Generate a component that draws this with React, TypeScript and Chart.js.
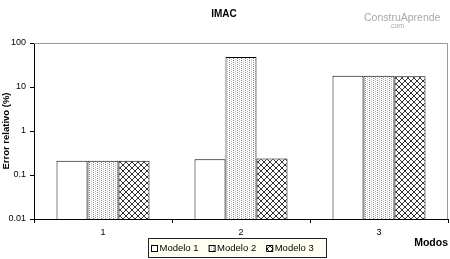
import React, { useEffect, useRef } from "react";
import { Chart, registerables } from "chart.js";

Chart.register(...registerables);

const categories = ["1", "2", "3"];
const seriesNames = ["Modelo 1", "Modelo 2", "Modelo 3"];
const modelo1 = [0.21, 0.228, 18];
const modelo2 = [0.21, 48, 18];
const modelo3 = [0.21, 0.238, 17.5];
const yTickValues = [0.01, 0.1, 1, 10, 100];
const chartTitle = "IMAC";
const yTitle = "Error relativo (%)";
const xTitle = "Modos";

const FONT = "'Liberation Sans', Arial, sans-serif";

function makeDotPattern(): CanvasPattern | string {
  const c = document.createElement("canvas");
  c.width = 4;
  c.height = 4;
  const g = c.getContext("2d");
  if (!g) return "#fff";
  g.fillStyle = "#ffffff";
  g.fillRect(0, 0, 4, 4);
  g.fillStyle = "#8a8a8a";
  g.fillRect(1, 0, 1, 1);
  g.fillRect(1, 2, 1, 1);
  g.fillStyle = "#b5b5b5";
  g.fillRect(3, 1, 1, 1);
  g.fillRect(3, 3, 1, 1);
  const p = g.createPattern(c, "repeat");
  return p || "#fff";
}

function makeCrossPattern(): CanvasPattern | string {
  const s = 6;
  const c = document.createElement("canvas");
  c.width = s;
  c.height = s;
  const g = c.getContext("2d");
  if (!g) return "#fff";
  g.fillStyle = "#ffffff";
  g.fillRect(0, 0, s, s);
  g.fillStyle = "#333333";
  for (let i = 0; i < s; i++) {
    g.fillRect(i, i, 1, 1);
    g.fillRect(s - 1 - i, i, 1, 1);
  }
  const p = g.createPattern(c, "repeat");
  return p || "#fff";
}

const extrasPlugin = {
  id: "extras",
  afterDraw(chart: any) {
    const ctx = chart.ctx as CanvasRenderingContext2D;
    const a = chart.chartArea;
    ctx.save();
    // plot frame (top + right)
    ctx.strokeStyle = "#9a9a9a";
    ctx.lineWidth = 1;
    ctx.beginPath();
    ctx.moveTo(a.left, a.top + 0.5);
    ctx.lineTo(a.right - 0.5, a.top + 0.5);
    ctx.lineTo(a.right - 0.5, a.bottom);
    ctx.stroke();

    // watermark
    ctx.fillStyle = "#a8a8a8";
    ctx.font = `10.5px ${FONT}`;
    ctx.textBaseline = "middle";
    ctx.textAlign = "left";
    ctx.fillText("ConstruAprende", 364, 18);
    ctx.font = `7px ${FONT}`;
    ctx.fillText(".com", 389, 26);

    // legend
    const bx = 148.5, by = 238.5, bw = 178, bh = 19;
    ctx.fillStyle = "#fffff2";
    ctx.fillRect(bx, by, bw, bh);
    ctx.strokeStyle = "#222";
    ctx.strokeRect(bx, by, bw, bh);
    ctx.font = `9.5px ${FONT}`;
    ctx.textBaseline = "middle";
    const cy = by + bh / 2;
    chart.data.datasets.forEach((ds: any, i: number) => {
      const x = 151 + i * 57.6;
      ctx.fillStyle = ds.backgroundColor;
      ctx.fillRect(x, cy - 3, 7, 7);
      ctx.strokeStyle = "#000";
      ctx.strokeRect(x + 0.5, cy - 3 + 0.5, 6, 6);
      ctx.fillStyle = "#000";
      ctx.fillText(ds.label, x + 8.5, cy + 0.5);
    });
    ctx.restore();
  },
};

export default function App() {
  const ref = useRef<HTMLCanvasElement | null>(null);
  useEffect(() => {
    document.body.style.margin = "0";
    const canvas = ref.current;
    if (!canvas) return;
    const fills = ["#ffffff", makeDotPattern(), makeCrossPattern()];
    const series = [modelo1, modelo2, modelo3];
    const chart = new Chart(canvas, {
      type: "bar",
      data: {
        labels: categories,
        datasets: series.map((d, i) => ({
          label: seriesNames[i],
          data: d,
          backgroundColor: fills[i] as any,
          borderColor: "#000",
          borderWidth: 1,
          categoryPercentage: 0.674,
          barPercentage: 1,
        })),
      },
      options: {
        animation: false,
        responsive: false,
        devicePixelRatio: 1,
        layout: { padding: { left: 0, right: 2, top: 0, bottom: 0 } },
        plugins: {
          legend: { display: false },
          tooltip: { enabled: false },
          title: {
            display: true,
            text: chartTitle,
            color: "#000",
            font: { family: FONT, size: 10, weight: "bold" },
            padding: { top: 8, bottom: 23 },
          },
        },
        scales: {
          x: {
            type: "category",
            grid: {
              display: true,
              offset: true,
              drawOnChartArea: false,
              drawTicks: true,
              tickLength: 4,
              color: "#000",
            },
            border: { display: true, color: "#000" },
            ticks: {
              color: "#000",
              padding: 4,
              font: { family: FONT, size: 9 },
            },
            title: {
              display: true,
              text: xTitle,
              align: "end",
              color: "#000",
              font: { family: FONT, size: 10.5, weight: "bold" },
              padding: { top: 0, bottom: 10 },
            },
            afterFit: (scale: any) => {
              scale.height = 40;
            },
          },
          y: {
            type: "logarithmic",
            min: 0.01,
            max: 100,
            grid: {
              display: true,
              drawOnChartArea: false,
              drawTicks: true,
              tickLength: 4,
              color: "#000",
            },
            border: { display: true, color: "#000" },
            afterBuildTicks: (scale: any) => {
              scale.ticks = yTickValues.map((v) => ({ value: v, major: true }));
            },
            ticks: {
              color: "#000",
              padding: 4,
              autoSkip: false,
              font: { family: FONT, size: 9 },
              callback: (v: any) => String(Number(v)),
            },
            title: {
              display: true,
              text: yTitle,
              color: "#000",
              font: { family: FONT, size: 9.5, weight: "bold" },
              padding: { top: 1, bottom: 0 },
            },
            afterFit: (scale: any) => {
              scale.width = 34;
            },
          },
        },
      },
      plugins: [extrasPlugin],
    });
    return () => chart.destroy();
  }, []);
  return (
    <div style={{ width: 450, height: 259 }}>
      <canvas ref={ref} width={450} height={259} style={{ display: "block" }} />
    </div>
  );
}
